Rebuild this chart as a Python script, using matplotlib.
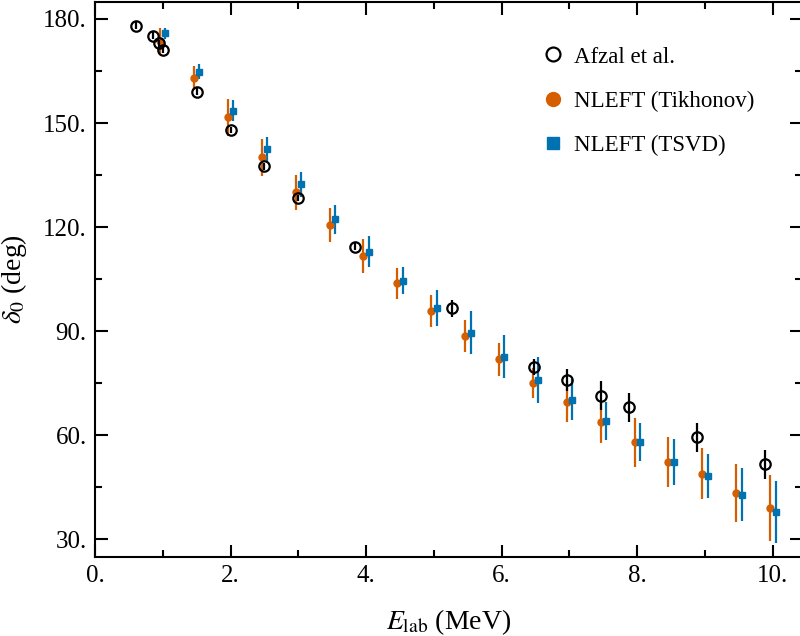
import matplotlib
matplotlib.use("Agg")
import matplotlib.pyplot as plt
from matplotlib.lines import Line2D
from matplotlib.ticker import MultipleLocator, FuncFormatter

plt.rcParams['font.family'] = ['Liberation Serif', 'DejaVu Serif']
plt.rcParams['mathtext.fontset'] = 'stix'

# Afzal et al. data
afzal_e = [0.60, 0.85, 0.94, 1.00, 1.50, 2.00, 2.50, 3.00, 3.84, 5.26,
           6.47, 6.96, 7.47, 7.88, 8.88, 9.88]
afzal_d = [178.1, 175.1, 173.0, 171.1, 159.0, 148.0, 137.6, 128.4, 114.3, 96.6,
           79.6, 75.9, 71.4, 68.0, 59.4, 51.6]
afzal_err = [1.0, 1.0, 1.0, 1.0, 1.0, 1.0, 1.0, 1.0, 1.0, 2.4,
             2.3, 3.2, 4.1, 4.2, 4.2, 4.2]

# NLEFT energies
nleft_e = [1.0, 1.5, 2.0, 2.5, 3.0, 3.5, 4.0, 4.5, 5.0, 5.5,
           6.0, 6.5, 7.0, 7.5, 8.0, 8.5, 9.0, 9.5, 10.0]
tik_d = [173.7, 162.9, 151.7, 140.1, 130.0, 120.6, 111.7, 103.8, 95.8, 88.6,
         81.9, 75.1, 69.7, 63.9, 58.0, 52.2, 48.9, 43.4, 38.9]
tik_err = [3.7, 3.5, 5.3, 5.4, 5.0, 5.0, 5.0, 4.4, 4.7, 4.6,
           4.8, 4.4, 5.9, 6.0, 7.1, 7.2, 7.3, 8.3, 9.5]
tsvd_d = [175.9, 164.8, 153.6, 142.6, 132.3, 122.3, 112.9, 104.6, 96.8, 89.6,
          82.7, 76.0, 70.3, 64.2, 58.1, 52.2, 48.3, 42.9, 37.9]
tsvd_err = [1.6, 2.2, 3.0, 3.4, 3.5, 4.2, 4.5, 4.0, 5.2, 6.3,
            6.2, 6.6, 6.0, 5.5, 5.5, 6.6, 6.3, 7.7, 8.9]

orange = '#D55E00'
blue = '#0072B2'

fig = plt.figure(figsize=(8, 6.36), dpi=100)
ax = fig.add_axes([0.11875, 0.1242, 0.88375, 0.8727])

shift = 0.04
ax.errorbar([e - shift for e in nleft_e], tik_d, yerr=tik_err, fmt='o', color=orange,
            ms=5, elinewidth=1.6, capsize=0, zorder=3)
ax.errorbar([e + shift for e in nleft_e], tsvd_d, yerr=tsvd_err, fmt='s', color=blue,
            ms=5, elinewidth=1.6, capsize=0, zorder=3)
ax.errorbar(afzal_e, afzal_d, yerr=afzal_err, fmt='o', color='black', mfc='none',
            mec='black', mew=1.6, ms=7.5, elinewidth=1.6, capsize=0, zorder=4)

ax.set_xlim(0, 10.43)
ax.set_ylim(24.9, 184.9)

ax.xaxis.set_major_locator(MultipleLocator(2))
ax.xaxis.set_minor_locator(MultipleLocator(1))
ax.yaxis.set_major_locator(MultipleLocator(30))
ax.yaxis.set_minor_locator(MultipleLocator(15))
fmt = FuncFormatter(lambda v, p: f'{v:g}.')
ax.xaxis.set_major_formatter(fmt)
ax.yaxis.set_major_formatter(fmt)

ax.tick_params(which='both', direction='in', top=True, right=True, width=1.5,
               labelsize=18, pad=6)
ax.tick_params(which='major', length=9)
ax.tick_params(which='minor', length=5)
for s in ax.spines.values():
    s.set_linewidth(1.5)

ax.set_xlabel(r'$E_{\mathrm{lab}}$ (MeV)', fontsize=20, labelpad=14)
ax.set_ylabel(r'$\delta_0$ (deg)', fontsize=20, labelpad=10)

handles = [
    Line2D([], [], ls='none', marker='o', mfc='none', mec='black', mew=1.6, ms=10),
    Line2D([], [], ls='none', marker='o', color=orange, ms=10),
    Line2D([], [], ls='none', marker='s', color=blue, ms=9),
]
labels = ['Afzal et al.', 'NLEFT (Tikhonov)', 'NLEFT (TSVD)']
ax.legend(handles, labels, loc='upper left', bbox_to_anchor=(0.602, 0.957), frameon=False,
          fontsize=16.5, handlelength=1.0, handletextpad=0.45, labelspacing=1.0)

fig.savefig('out.png', dpi=100)
